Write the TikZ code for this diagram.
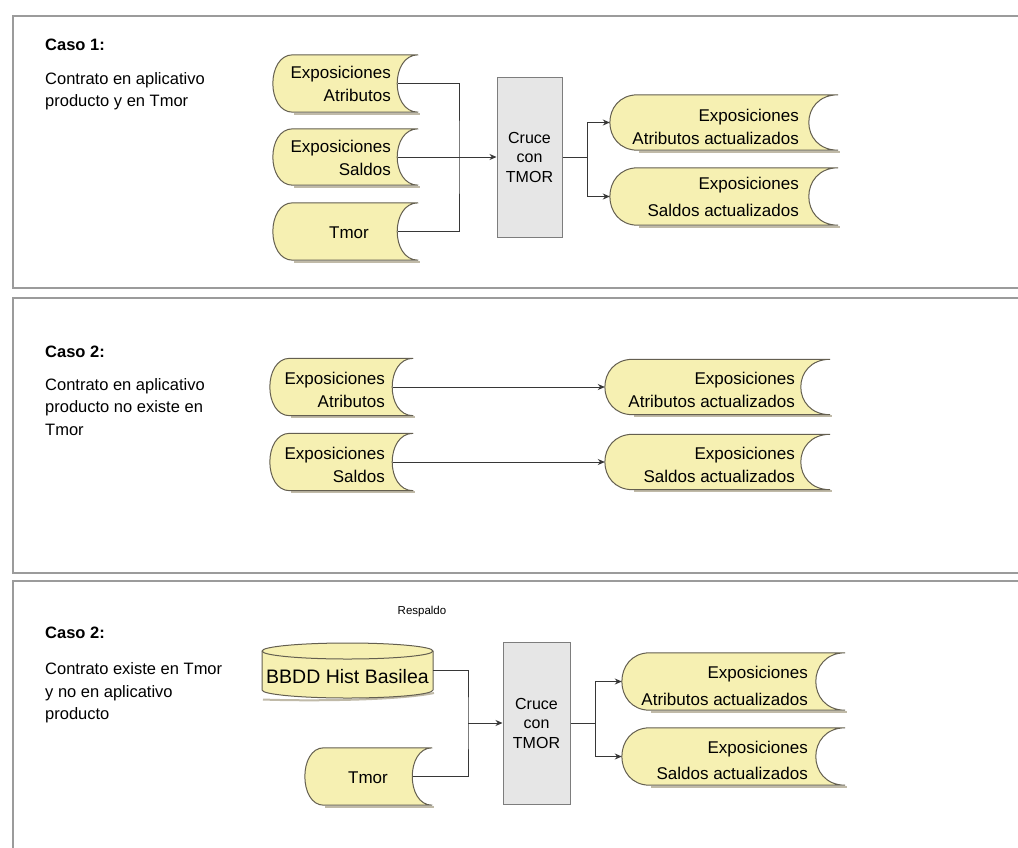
\documentclass[tikz,border=0pt]{standalone}
\usepackage{fontspec}
\setmainfont{Liberation Sans}
\usetikzlibrary{arrows.meta,calc}

\definecolor{datafill}{RGB}{246,240,178}
\definecolor{dataedge}{RGB}{100,95,80}
\definecolor{datashadow}{RGB}{150,140,110}
\definecolor{procfill}{RGB}{230,230,230}
\definecolor{procedge}{RGB}{125,125,125}
\definecolor{panelline}{RGB}{155,155,155}
\definecolor{linkcol}{RGB}{55,55,55}

\tikzset{
  panel/.style={draw=panelline, line width=1.5pt},
  shp/.style={draw=dataedge, fill=datafill, line width=1pt},
  shd/.style={draw=datashadow, line width=2pt, opacity=0.6},
  proc/.style={draw=procedge, fill=procfill, line width=1pt, inner sep=0pt,
    font=\fontsize{16}{19.5}\selectfont, align=center},
  link/.style={draw=linkcol, line width=0.9pt},
  arr/.style={link, -{Stealth[length=7pt,width=6pt]}},
  lbl/.style={font=\fontsize{17}{23}\selectfont, align=right, inner sep=0pt, anchor=east},
  body/.style={font=\fontsize{16.5}{22.5}\selectfont, align=left, inner sep=0pt, anchor=west},
  title/.style={font=\bfseries\fontsize{16.5}{20}\selectfont, inner sep=0pt, anchor=west},
}

% stored-data symbol: name, centre x, centre y, width, height, curve depth
\newcommand\datastore[6]{%
  \node[minimum width=#4pt, minimum height=#5pt, inner sep=0pt] (#1) at (#2,#3) {};
  \draw[shd] ([shift={(1.5,1.5)}]#1.south east) -- ([shift={(#6+1.5,1.5)}]#1.south west);
  \draw[shp] ([xshift=#6pt]#1.north west) -- (#1.north east)
     .. controls +(-1.4*#6,0) and +(-1.4*#6,0) .. (#1.south east)
     -- ([xshift=#6pt]#1.south west)
     .. controls +(-1.33*#6,0) and +(-1.33*#6,0) .. ([xshift=#6pt]#1.north west) -- cycle;
}

\begin{document}
\begin{tikzpicture}[x=1pt, y=-1pt]
\clip (0,0) rectangle (1018,847);
\fill[white] (0,0) rectangle (1018,847);

% panels
\draw[panel] (13,16) rectangle (1040,288);
\draw[panel] (13,298) rectangle (1040,573);
\draw[panel] (13,581) rectangle (1040,870);

% ---------------- case 1 ----------------
\node[title] (t1) at (45,45) {Caso 1:};
\node[body] (d1) at (45,91) {Contrato en aplicativo\\producto y en Tmor};

\datastore{a1}{345.5}{83.5}{145}{57}{20}
\datastore{a2}{345.5}{157}{145}{56}{20}
\datastore{a3}{345.5}{231.5}{145}{57}{20}
\node[lbl] (a1t) at (391,84) {Exposiciones\\Atributos};
\node[lbl] (a2t) at (391,158) {Exposiciones\\Saldos};
\node[lbl, anchor=center] (a3t) at (349,233) {Tmor};

\node[proc, minimum width=65pt, minimum height=160pt] (c1) at (529.5,157) {Cruce\\con\\TMOR};

\coordinate (j1) at (459,157);
\draw[link] ([xshift=-20pt]a1.east) -| (j1) |- ([xshift=-20pt]a3.east);
\draw[arr] ([xshift=-20pt]a2.east) -- (c1.west);

\datastore{o1}{724}{122.5}{228}{55}{28}
\datastore{o2}{724}{196.5}{228}{57}{28}
\node[lbl] (o1t) at (799,126.5) {Exposiciones\\Atributos actualizados};
\node[lbl, font=\fontsize{17}{27}\selectfont] (o2t) at (799,197) {Exposiciones\\Saldos actualizados};

\coordinate (k1) at (587,157);
\draw[link] (c1.east) -- (k1);
\draw[arr] (k1) |- (o1.west);
\draw[arr] (k1) |- (o2.west);

% ---------------- case 2 ----------------
\node[title] (t2) at (45,352) {Caso 2:};
\node[body] (d2) at (45,407) {Contrato en aplicativo\\producto no existe en\\Tmor};

\datastore{b1}{341.5}{387}{143}{57}{20}
\datastore{b2}{341.5}{462}{143}{57}{20}
\node[lbl] (b1t) at (385,390) {Exposiciones\\Atributos};
\node[lbl] (b2t) at (385,465) {Exposiciones\\Saldos};

\datastore{q1}{717.5}{387}{225}{55}{28}
\datastore{q2}{717.5}{462}{225}{55}{28}
\node[lbl] (q1t) at (795,390) {Exposiciones\\Atributos actualizados};
\node[lbl] (q2t) at (795,465) {Exposiciones\\Saldos actualizados};

\draw[arr] ([xshift=-20pt]b1.east) -- (q1.west);
\draw[arr] ([xshift=-20pt]b2.east) -- (q2.west);

% ---------------- case 3 ----------------
\node[font=\fontsize{11.5}{13}\selectfont, inner sep=0pt] (resp) at (422,612) {Respaldo};
\node[title] (t3) at (45,633) {Caso 2:};
\node[body] (d3) at (45,693) {Contrato existe en Tmor\\y no en aplicativo\\producto};

% database cylinder
\node[minimum width=171pt, minimum height=55pt, inner sep=0pt] (db) at (347.5,670.5) {};
\draw[shd] (263,699.5) .. controls (300,701) and (395,701) .. (434,693);
\draw[shp] (262,651) -- (262,690)
   .. controls (262,694.4) and (300.3,698) .. (347.5,698)
   .. controls (394.7,698) and (433,694.4) .. (433,690)
   -- (433,651)
   .. controls (433,646.6) and (394.7,643) .. (347.5,643)
   .. controls (300.3,643) and (262,646.6) .. (262,651) -- cycle;
\draw[draw=dataedge, line width=1pt] (262,651)
   .. controls (262,655.4) and (300.3,659) .. (347.5,659)
   .. controls (394.7,659) and (433,655.4) .. (433,651);
\node[font=\fontsize{19.5}{22}\selectfont, inner sep=0pt] (dbt) at (347.5,677) {BBDD Hist Basilea};

\datastore{t3s}{368.5}{776.5}{127}{57}{19}
\node[lbl, anchor=center] (t3t) at (368,778) {Tmor};

\node[proc, minimum width=67pt, minimum height=162pt] (c3) at (536.5,723) {Cruce\\con\\TMOR};

\coordinate (j3) at (468,723);
\draw[link] (db.east) -| (j3) |- ([xshift=-19pt]t3s.east);
\draw[arr] (j3) -- (c3.west);

\datastore{r1}{733.5}{681.5}{223}{57}{28}
\datastore{r2}{733.5}{756.5}{223}{57}{28}
\node[lbl, font=\fontsize{17}{27}\selectfont] (r1t) at (808,686) {Exposiciones\\Atributos actualizados};
\node[lbl, font=\fontsize{17}{26}\selectfont] (r2t) at (808,760) {Exposiciones\\Saldos actualizados};

\coordinate (k3) at (595,723);
\draw[link] (c3.east) -- (k3);
\draw[arr] (k3) |- (r1.west);
\draw[arr] (k3) |- (r2.west);
\end{tikzpicture}
\end{document}
